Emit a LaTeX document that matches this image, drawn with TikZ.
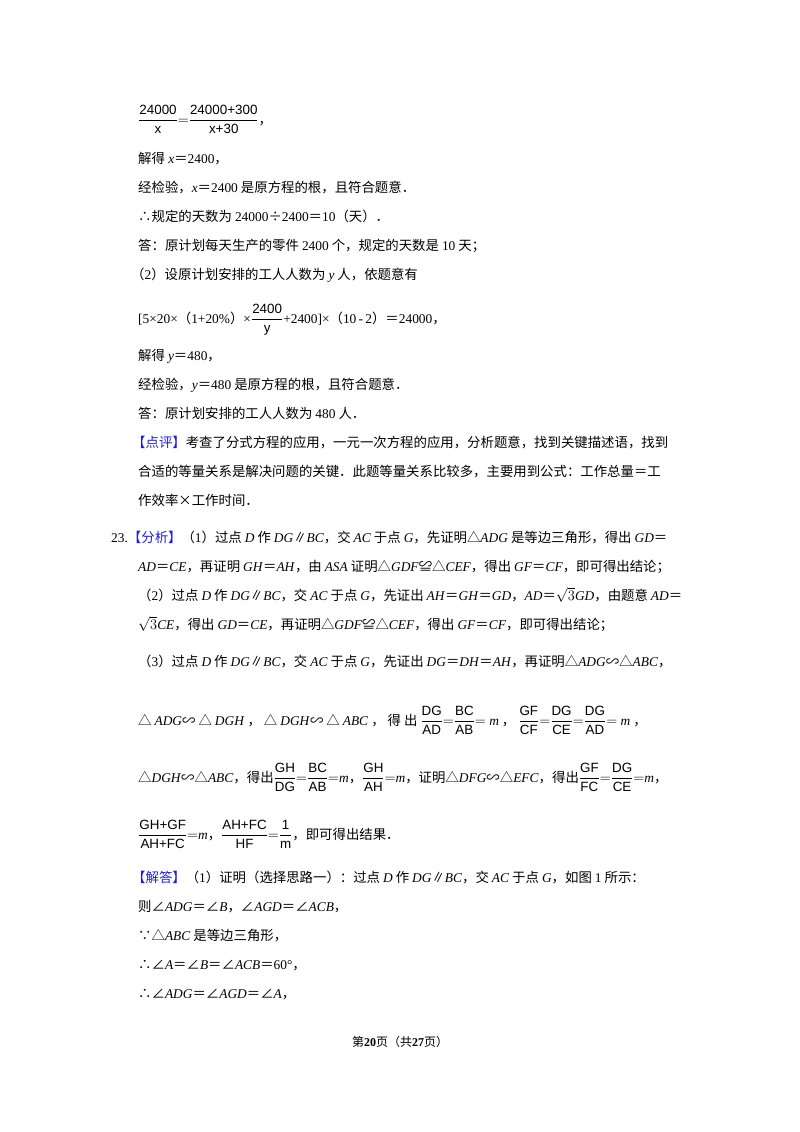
\documentclass[tikz,border=0pt]{standalone}
\usepackage{amsmath}
\usepackage{fontspec}
\setmainfont{Liberation Serif}
\newfontfamily\cjkf{Noto Sans CJK SC}
\newfontfamily\fracf{Liberation Sans}
\newcommand\zh[1]{{\cjkf #1}}
\newcommand\iv[1]{\textit{#1}}
\definecolor{tagblue}{RGB}{30,30,230}
\newcommand\btag[1]{{\color{tagblue}\cjkf 【#1】}}
\newcommand\fr[2]{\ensuremath{\dfrac{\text{\fracf #1}}{\text{\fracf #2}}}}
\begin{document}
\begin{tikzpicture}[x=1pt,y=-1pt,
  ln/.style={anchor=base west,inner sep=0pt,font=\fontsize{13.4}{16}\selectfont}]
\useasboundingbox (0,0) rectangle (800,1132);
\node[ln] (l1) at (138,124) {\fr{24000}{x}$=$\fr{24000+300}{x+30}\zh{，}};
\node[ln] (l2) at (138,163) {\zh{解得} \iv{x}\zh{＝}2400\zh{，}};
\node[ln] (l3) at (138,192) {\zh{经检验，}\iv{x}\zh{＝}2400\zh{ 是原方程的根，且符合题意．}};
\node[ln] (l4) at (138,221) {\zh{∴规定的天数为 }24000\zh{÷}2400\zh{＝}10\zh{（天）．}};
\node[ln] (l5) at (138,250) {\zh{答：原计划每天生产的零件 }2400\zh{ 个，规定的天数是 }10\zh{ 天；}};
\node[ln] (l6) at (131,279) {\zh{（}2\zh{）设原计划安排的工人人数为 }\iv{y}\zh{ 人，依题意有}};
\node[ln] (l7) at (138,323) {[5×20×\zh{（}1+20\%\zh{）}×\fr{2400}{y}+2400]×\zh{（}10\,-\,2\zh{）＝}24000\zh{，}};
\node[ln] (l8) at (138,360) {\zh{解得 }\iv{y}\zh{＝}480\zh{，}};
\node[ln] (l9) at (138,389) {\zh{经检验，}\iv{y}\zh{＝}480\zh{ 是原方程的根，且符合题意．}};
\node[ln] (l10) at (138,418) {\zh{答：原计划安排的工人人数为 }480\zh{ 人．}};
\node[ln] (l11) at (132,447) {\btag{点评}\zh{考查了分式方程的应用，一元一次方程的应用，分析题意，找到关键描述语，找到}};
\node[ln] (l12) at (138,476) {\zh{合适的等量关系是解决问题的关键．此题等量关系比较多，主要用到公式：工作总量＝工}};
\node[ln] (l13) at (138,505) {\zh{作效率×工作时间．}};
\node[ln] (l14) at (111,542) {23.\btag{分析}\zh{（}1\zh{）过点 }\iv{D}\zh{ 作 }\iv{DG}\zh{∥}\iv{BC}\zh{，交 }\iv{AC}\zh{ 于点 }\iv{G}\zh{，先证明△}\iv{ADG}\zh{ 是等边三角形，得出 }\iv{GD}\zh{＝}};
\node[ln] (l15) at (138,571) {\iv{AD}\zh{＝}\iv{CE}\zh{，再证明 }\iv{GH}\zh{＝}\iv{AH}\zh{，由 }\iv{ASA}\zh{ 证明△}\iv{GDF}\zh{≌△}\iv{CEF}\zh{，得出 }\iv{GF}\zh{＝}\iv{CF}\zh{，即可得出结论；}};
\node[ln] (l16) at (138,600) {\zh{（}2\zh{）过点 }\iv{D}\zh{ 作 }\iv{DG}\zh{∥}\iv{BC}\zh{，交 }\iv{AC}\zh{ 于点 }\iv{G}\zh{，先证出 }\iv{AH}\zh{＝}\iv{GH}\zh{＝}\iv{GD}\zh{，}\iv{AD}\zh{＝}$\sqrt{3}$\iv{GD}\zh{，由题意 }\iv{AD}\zh{＝}};
\node[ln] (l17) at (138,629) {$\sqrt{3}$\iv{CE}\zh{，得出 }\iv{GD}\zh{＝}\iv{CE}\zh{，再证明△}\iv{GDF}\zh{≌△}\iv{CEF}\zh{，得出 }\iv{GF}\zh{＝}\iv{CF}\zh{，即可得出结论；}};
\node[ln] (l18) at (138,666) {\zh{（}3\zh{）过点 }\iv{D}\zh{ 作 }\iv{DG}\zh{∥}\iv{BC}\zh{，交 }\iv{AC}\zh{ 于点 }\iv{G}\zh{，先证出 }\iv{DG}\zh{＝}\iv{DH}\zh{＝}\iv{AH}\zh{，再证明△}\iv{ADG}\zh{∽△}\iv{ABC}\zh{，}};
\node[ln] (l19) at (138,725) {\zh{△ }\iv{ADG}\zh{∽ △ }\iv{DGH}\zh{ ，  △ }\iv{DGH}\zh{∽ △ }\iv{ABC}\zh{ ，  得 出 }\fr{DG}{AD}$=$\fr{BC}{AB}$=$ \iv{m}\zh{ ，  }\fr{GF}{CF}$=$\fr{DG}{CE}$=$\fr{DG}{AD}$=$ \iv{m}\zh{ ，}};
\node[ln] (l20) at (138,782) {\zh{△}\iv{DGH}\zh{∽△}\iv{ABC}\zh{，得出}\fr{GH}{DG}$=$\fr{BC}{AB}$=$\iv{m}\zh{，}\fr{GH}{AH}$=$\iv{m}\zh{，证明△}\iv{DFG}\zh{∽△}\iv{EFC}\zh{，得出}\fr{GF}{FC}$=$\fr{DG}{CE}$=$\iv{m}\zh{，}};
\node[ln] (l21) at (138,839) {\fr{GH+GF}{AH+FC}$=$\iv{m}\zh{，}\fr{AH+FC}{HF}$=$\fr{1}{m}\zh{，即可得出结果．}};
\node[ln] (l22) at (132,882) {\btag{解答}\zh{（}1\zh{）证明（选择思路一）：过点 }\iv{D}\zh{ 作 }\iv{DG}\zh{∥}\iv{BC}\zh{，交 }\iv{AC}\zh{ 于点 }\iv{G}\zh{，如图 }1\zh{ 所示：}};
\node[ln] (l23) at (138,911) {\zh{则∠}\iv{ADG}\zh{＝∠}\iv{B}\zh{，∠}\iv{AGD}\zh{＝∠}\iv{ACB}\zh{，}};
\node[ln] (l24) at (138,940) {\zh{∵△}\iv{ABC}\zh{ 是等边三角形，}};
\node[ln] (l25) at (138,969) {\zh{∴∠}\iv{A}\zh{＝∠}\iv{B}\zh{＝∠}\iv{ACB}\zh{＝}60°\zh{，}};
\node[ln] (l26) at (138,998) {\zh{∴∠}\iv{ADG}\zh{＝∠}\iv{AGD}\zh{＝∠}\iv{A}\zh{，}};
\node[anchor=base,inner sep=0pt,font=\fontsize{12}{14}\selectfont] (ft) at (400,1046) {\zh{第}\textbf{20}\zh{页（共}\textbf{27}\zh{页）}};
\end{tikzpicture}
\end{document}
